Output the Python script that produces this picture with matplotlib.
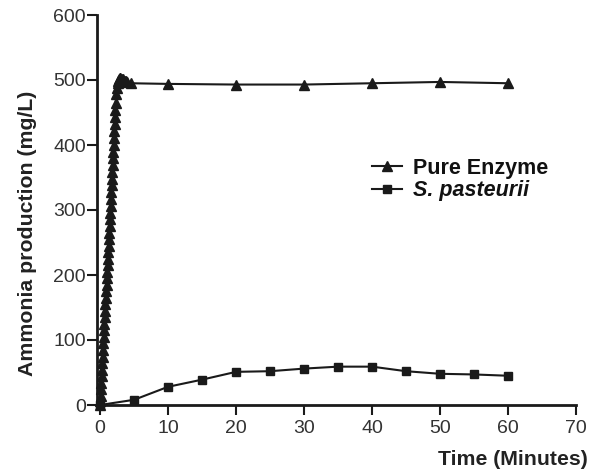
import matplotlib
matplotlib.use("Agg")
import matplotlib.pyplot as plt

# Pure enzyme: dense sampling during the fast rise, then sparse
enzyme_t = [0.00, 0.05, 0.10, 0.15, 0.20, 0.25, 0.30, 0.35, 0.40, 0.45,
            0.50, 0.55, 0.60, 0.65, 0.70, 0.75, 0.80, 0.85, 0.90, 0.95,
            1.00, 1.05, 1.10, 1.15, 1.20, 1.25, 1.30, 1.35, 1.40, 1.45,
            1.50, 1.55, 1.60, 1.65, 1.70, 1.75, 1.80, 1.85, 1.90, 1.95,
            2.00, 2.05, 2.10, 2.15, 2.20, 2.25, 2.30, 2.40, 2.50, 2.60,
            2.70, 2.80, 2.90, 3.00, 3.20, 3.40, 3.60, 3.80, 4.00, 4.50,
            10, 20, 30, 40, 50, 60]
enzyme_nh3 = [0, 6, 14, 24, 34, 44, 54, 64, 74, 84,
              95, 105, 115, 125, 135, 145, 155, 165, 175, 185,
              195, 205, 215, 225, 235, 245, 255, 265, 275, 286,
              296, 306, 317, 327, 338, 348, 359, 369, 380, 390,
              400, 411, 421, 432, 443, 454, 465, 478, 488, 495,
              499, 502, 503, 503, 502, 501, 499, 498, 497, 495,
              494, 493, 493, 495, 497, 495]

# S. pasteurii
bact_t = [0, 5, 10, 15, 20, 25, 30, 35, 40, 45, 50, 55, 60]
bact_nh3 = [0, 8, 28, 39, 51, 52, 56, 59, 59, 52, 48, 47, 45]

plt.rcParams['font.family'] = ['Liberation Sans', 'DejaVu Sans']

fig = plt.figure(figsize=(6.01, 4.72), dpi=100)
ax = fig.add_axes([97 / 601, 67 / 472, 479 / 601, 390 / 472])

ax.plot(enzyme_t, enzyme_nh3, '-^', color='#1a1a1a', linewidth=1.5,
        markersize=7, clip_on=False, label='Pure Enzyme', zorder=3)
ax.plot(bact_t, bact_nh3, '-s', color='#1a1a1a', linewidth=1.5,
        markersize=6, clip_on=False, label='S. pasteurii', zorder=3)

ax.set_xlim(-0.45, 70)
ax.set_ylim(0, 600)
ax.set_xticks(range(0, 71, 10))
ax.set_yticks(range(0, 601, 100))
ax.spines['bottom'].set_bounds(0, 70)

for side in ['top', 'right']:
    ax.spines[side].set_visible(False)
for side in ['left', 'bottom']:
    ax.spines[side].set_linewidth(2)
    ax.spines[side].set_color('#1a1a1a')

ax.tick_params(direction='out', length=7, width=1.5, color='#1a1a1a',
               labelsize=14, labelcolor='#333333')
ax.tick_params(axis='y', pad=1)
ax.tick_params(axis='x', pad=4)

ax.set_xlabel('Time (Minutes)', fontsize=15.3, fontweight='bold',
              color='#222222', ha='right')
ax.xaxis.set_label_coords(1.025, -0.115)
ax.set_ylabel('Ammonia production (mg/L)', fontsize=15.3, fontweight='bold',
              color='#222222')
ax.yaxis.set_label_coords(-0.125, 0.44)

leg = ax.legend(loc='upper left', bbox_to_anchor=(372 / 601, 1 - 158 / 472),
                bbox_transform=fig.transFigure, frameon=False,
                borderpad=0, borderaxespad=0,
                handlelength=1.4, handletextpad=0.5, labelspacing=0.05,
                prop={'weight': 'bold', 'size': 15.5})
for t in leg.get_texts():
    t.set_color('#111111')
leg.get_texts()[1].set_style('italic')

fig.savefig('out.png', dpi=100)
